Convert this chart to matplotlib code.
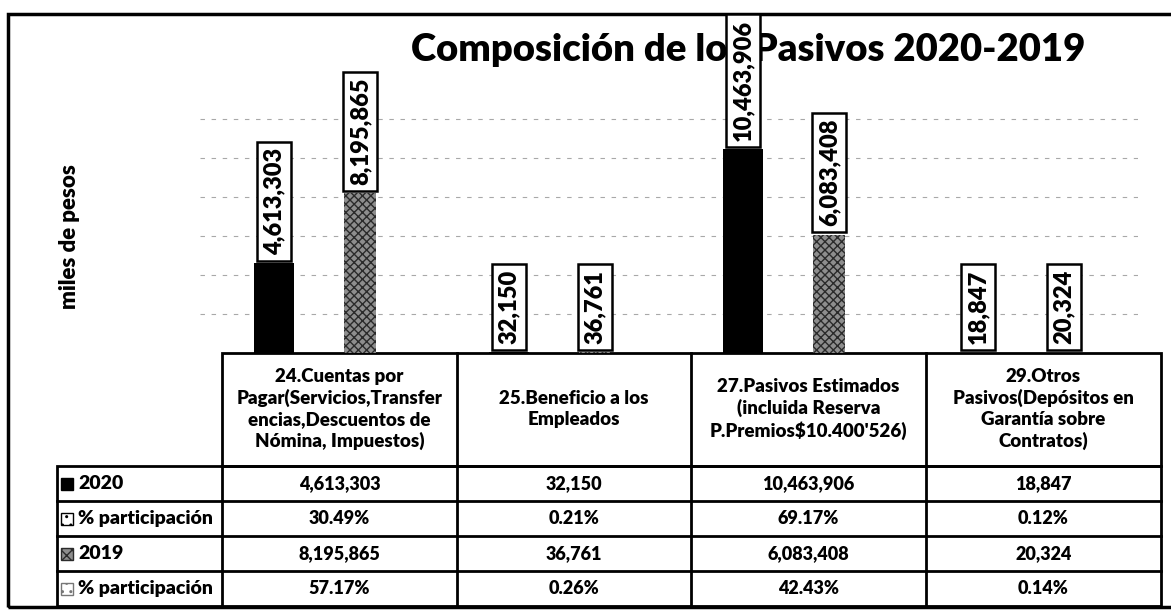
import numpy as np
import matplotlib
matplotlib.use("Agg")
import matplotlib.pyplot as plt
from matplotlib.patches import Rectangle

plt.rcParams['font.family'] = ['Lato', 'DejaVu Sans']
plt.rcParams['font.weight'] = 'heavy'

# data
categories = [
    "24.Cuentas por\nPagar(Servicios,Transfer\nencias,Descuentos de\nNómina, Impuestos)",
    "25.Beneficio a los\nEmpleados",
    "27.Pasivos Estimados\n(incluida Reserva\nP.Premios$10.400'526)",
    "29.Otros\nPasivos(Depósitos en\nGarantía sobre\nContratos)",
]
values_2020 = [4613303, 32150, 10463906, 18847]
part_2020 = [30.49, 0.21, 69.17, 0.12]
values_2019 = [8195865, 36761, 6083408, 20324]
part_2019 = [57.17, 0.26, 42.43, 0.14]
row_labels = ["2020", "% participación", "2019", "% participación"]

title = "Composición de los Pasivos 2020-2019"
ylabel = "miles de pesos"

W, H = 1171, 614
fig = plt.figure(figsize=(W / 100, H / 100), dpi=100)

def fx(px):
    return px / W

def fy(py):
    return 1 - py / H

# outer frame + title + y label (pixel layout)
fig.patches.append(Rectangle((fx(8), fy(607)), fx(1180) - fx(8), fy(14) - fy(607),
                             transform=fig.transFigure, fill=False, ec='black', lw=2.5, zorder=-2))
fig.text(fx(748), fy(50), title, ha='center', va='center', fontsize=27.5,
         fontweight='heavy', zorder=-1)
fig.text(fx(70), fy(237), ylabel, ha='center', va='center', rotation=90,
         fontsize=16, fontweight='heavy')

# chart
ax = fig.add_axes([fx(200), fy(353), fx(1138) - fx(200), fy(100) - fy(353)])
ax.patch.set_alpha(0)
x = np.arange(len(categories))
ax.bar(x - 0.183, values_2020, 0.17, color='black', zorder=2)
ax.bar(x + 0.183, values_2019, 0.135, color='#8e8e8e', hatch='xxxx',
       edgecolor='#2b2b2b', linewidth=0, zorder=2)

box = dict(boxstyle='square,pad=0.25', fc='white', ec='black', lw=1.8)
for xi, v in zip(x - 0.183, values_2020):
    ax.annotate(f"{v:,}", xy=(xi, v), xytext=(0, 6), textcoords='offset points',
                rotation=90, ha='center', va='bottom', fontsize=17, fontweight='heavy',
                bbox=box, annotation_clip=False, zorder=5)
for xi, v in zip(x + 0.183, values_2019):
    ax.annotate(f"{v:,}", xy=(xi, v), xytext=(0, 6), textcoords='offset points',
                rotation=90, ha='center', va='bottom', fontsize=17, fontweight='heavy',
                bbox=box, annotation_clip=False, zorder=5)

ax.set_xlim(-0.5, len(categories) - 0.5)
ax.set_ylim(0, 13e6)
ax.set_yticks(np.arange(2e6, 13e6, 2e6))
ax.yaxis.grid(True, color='#a8a8a8', linestyle=(0, (4, 6)), linewidth=0.8, zorder=0)
ax.tick_params(left=False, bottom=False, labelleft=False, labelbottom=False)
for s in ax.spines.values():
    s.set_visible(False)

# data table under the chart
tab = fig.add_axes([0, 0, 1, 1], zorder=-0.5)
tab.set_xlim(0, W)
tab.set_ylim(H, 0)
tab.axis('off')

col_edges = [222, 457, 691, 926, 1161]
row_edges = [466, 501, 536, 571, 606]
lw = 2.0
tab.add_patch(Rectangle((222, 353), 1161 - 222, 466 - 353, fill=False, ec='black', lw=lw))
tab.add_patch(Rectangle((57, 466), 1161 - 57, 606 - 466, fill=False, ec='black', lw=lw))
for cx in col_edges[1:-1]:
    tab.plot([cx, cx], [353, 606], color='black', lw=lw)
tab.plot([222, 222], [466, 606], color='black', lw=lw)
for ry in row_edges[1:-1]:
    tab.plot([57, 1161], [ry, ry], color='black', lw=lw)

for i, lab in enumerate(categories):
    cx = (col_edges[i] + col_edges[i + 1]) / 2
    tab.text(cx, 409, lab, ha='center', va='center', fontsize=13.5,
             fontweight='heavy', linespacing=1.25)

rows = [
    [f"{v:,}" for v in values_2020],
    [f"{p:.2f}%" for p in part_2020],
    [f"{v:,}" for v in values_2019],
    [f"{p:.2f}%" for p in part_2019],
]
for r, vals in enumerate(rows):
    cy = (row_edges[r] + row_edges[r + 1]) / 2
    for i, s in enumerate(vals):
        cx = (col_edges[i] + col_edges[i + 1]) / 2
        tab.text(cx, cy, s, ha='center', va='center', fontsize=13, fontweight='heavy')

# row labels with legend keys
key_styles = [
    dict(fc='black', ec='black'),
    dict(fc='white', ec='black', hatch='..'),
    dict(fc='#8e8e8e', ec='#2b2b2b', hatch='xxx'),
    dict(fc='white', ec='#777777', hatch='..'),
]
for r, lab in enumerate(row_labels):
    cy = (row_edges[r] + row_edges[r + 1]) / 2
    tab.add_patch(Rectangle((61, cy - 6), 12, 12, lw=1, **key_styles[r]))
    tab.text(78, cy, lab, ha='left', va='center', fontsize=14, fontweight='heavy')

fig.savefig("out.png", dpi=100)
